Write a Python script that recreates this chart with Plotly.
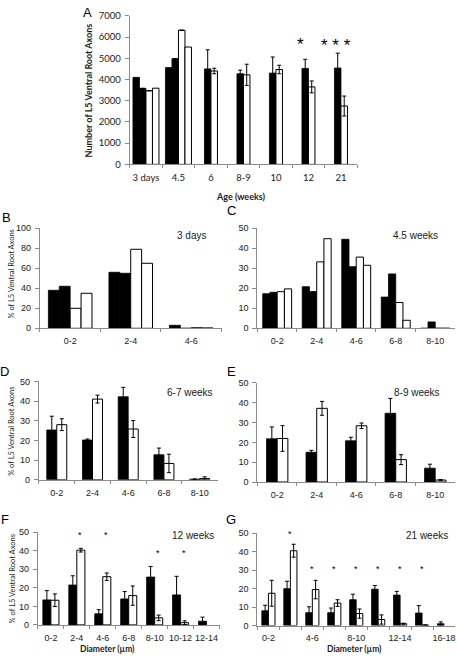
import plotly.graph_objects as go

W, H = 457, 667

# ---------------- data ----------------
A_cats = ["3 days", "4.5", "6", "8-9", "10", "12", "21"]
A_black1 = [4100, 4560, None, None, None, None, None]
A_black2 = [3580, 4980, 4500, 4270, 4300, 4520, 4540]
A_black2_err = [None, None, 900, 170, 760, 430, 700]
A_white1 = [3470, 6320, 4400, 4220, 4470, 3650, 2750]
A_white1_err = [None, None, 130, 500, 200, 280, 470]
A_white2 = [3590, 5530, None, None, None, None, None]
A_yticks = [0, 1000, 2000, 3000, 4000, 5000, 6000, 7000]
A_stars = ["*", "* * *"]
A_star_cat = ["12", "21"]
A_star_y = [5650, 5600]

B_cats = ["0-2", "2-4", "4-6"]
B_black1 = [38, 56, 3]
B_black2 = [42, 55, 0]
B_white1 = [20, 79, 0.5]
B_white2 = [35, 65, 0.3]
B_yticks = [0, 20, 40, 60, 80, 100]

C_cats = ["0-2", "2-4", "4-6", "6-8", "8-10"]
C_black1 = [17.3, 20.8, 44.5, 15.6, 0]
C_black2 = [18.0, 18.4, 30.8, 27.2, 3.2]
C_white1 = [18.3, 33.2, 35.6, 12.9, 0]
C_white2 = [19.7, 44.8, 31.5, 4.0, 0]

pct_yticks = [0, 10, 20, 30, 40, 50]

D_cats = ["0-2", "2-4", "4-6", "6-8", "8-10"]
D_black = [25.3, 20.2, 42.2, 12.7, 0.3]
D_black_err = [7.0, 0.5, 4.8, 3.4, None]
D_white = [28.0, 41.0, 25.8, 8.3, 0.6]
D_white_err = [3.0, 2.0, 4.3, 4.7, 0.9]

E_cats = ["0-2", "2-4", "4-6", "6-8", "8-10"]
E_black = [21.8, 15.0, 20.8, 34.7, 7.0]
E_black_err = [6.0, 1.0, 1.8, 7.5, 2.0]
E_white = [22.0, 37.2, 28.4, 11.3, 1.0]
E_white_err = [6.5, 3.5, 1.4, 2.5, 0.3]

F_cats = ["0-2", "2-4", "4-6", "6-8", "8-10", "10-12", "12-14"]
F_black = [13.5, 21.5, 6.0, 14.0, 25.8, 16.2, 2.0]
F_black_err = [5.0, 5.0, 2.2, 4.0, 5.7, 10.0, 2.2]
F_white = [13.3, 40.3, 26.0, 15.8, 3.8, 1.2, None]
F_white_err = [3.4, 1.0, 2.0, 5.2, 1.5, 1.0, None]
F_stars = ["2-4", "4-6", "8-10", "10-12"]
F_star_y = [48.5, 48.5, 39, 39]

G_cats = ["0-2", "2-4", "4-6", "6-8", "8-10", "10-12", "12-14", "14-16", "16-18"]
G_ticktext = ["0-2", "", "4-6", "", "8-10", "", "12-14", "", "16-18"]
G_black = [8.0, 20.0, 7.0, 7.0, 14.0, 19.7, 16.5, 6.8, 1.0]
G_black_err = [3.0, 4.0, 3.2, 2.5, 3.0, 2.0, 2.0, 4.0, 1.0]
G_white = [17.5, 40.5, 19.5, 12.2, 6.5, 3.3, 1.0, 0.3, None]
G_white_err = [7.0, 3.5, 5.0, 1.8, 2.5, 2.5, 0.3, None, None]
G_stars = ["2-4", "4-6", "6-8", "8-10", "10-12", "12-14", "14-16"]
G_star_y = [49.5, 30.5, 30.5, 30.5, 30.5, 30.5, 30.5]

# ---------------- styling ----------------
CAL = "Lato, Carlito, Calibri, sans-serif"
ARI = "Liberation Sans, Arial, sans-serif"
AXCOL = "#8a8a8a"
TXT = "#1a1a1a"

fig = go.Figure()


def px_x(v):
    return v / W


def px_y(v):
    return 1 - v / H


def bar(idx, cats, vals, errs, black, offset, width):
    err = None
    if errs is not None:
        err = dict(type="data", array=errs, visible=True, color="black",
                   thickness=1, width=2)
    fig.add_trace(go.Bar(
        x=cats, y=vals, error_y=err,
        xaxis="x" + ("" if idx == 1 else str(idx)),
        yaxis="y" + ("" if idx == 1 else str(idx)),
        marker=dict(color="black" if black else "white",
                    line=dict(color="black", width=0.8 if black else 1)),
        offset=offset, width=width, showlegend=False, hoverinfo="skip"))


def axes(idx, cats, xdom, ydom, yrange, yticks, tickfont, ticktext=None):
    sfx = "" if idx == 1 else str(idx)
    xa = dict(domain=[px_x(xdom[0]), px_x(xdom[1])], anchor="y" + sfx,
              type="category", categoryorder="array", categoryarray=cats,
              range=[-0.5, len(cats) - 0.5], showline=True, linecolor=AXCOL,
              linewidth=1, ticks="outside", tickson="boundaries", ticklen=3,
              tickcolor=AXCOL, tickfont=tickfont, showgrid=False, tickangle=0,
              zeroline=False, fixedrange=True, ticklabelstandoff=4)
    if ticktext is not None:
        xa.update(tickmode="array", tickvals=cats, ticktext=ticktext)
    ya = dict(domain=[px_y(ydom[1]), px_y(ydom[0])], anchor="x" + sfx,
              range=yrange, tickmode="array", tickvals=yticks,
              showline=True, linecolor=AXCOL, linewidth=1, ticks="outside",
              ticklen=4, tickcolor=AXCOL, tickfont=tickfont, showgrid=False,
              zeroline=False, fixedrange=True, ticklabelstandoff=2)
    fig.update_layout(**{"xaxis" + sfx: xa, "yaxis" + sfx: ya})


fontA = dict(family=CAL, size=9.5, color=TXT)
fontP = dict(family=ARI, size=9, color=TXT)

# Panel A
bar(1, A_cats, A_black1, None, True, -0.4, 0.2)
bar(1, A_cats, A_black2, A_black2_err, True, -0.2, 0.2)
bar(1, A_cats, A_white1, A_white1_err, False, 0.0, 0.2)
bar(1, A_cats, A_white2, None, False, 0.2, 0.2)
axes(1, A_cats, (130, 358), (10, 161), [0, 7000], A_yticks, fontA)

# Panel B
bw = 0.18
bar(2, B_cats, B_black1, None, True, -2 * bw, bw)
bar(2, B_cats, B_black2, None, True, -bw, bw)
bar(2, B_cats, B_white1, None, False, 0, bw)
bar(2, B_cats, B_white2, None, False, bw, bw)
axes(2, B_cats, (40, 222), (226, 327.7), [0, 100], B_yticks, fontP)

# Panel C
cw = 0.183
bar(3, C_cats, C_black1, None, True, -2 * cw, cw)
bar(3, C_cats, C_black2, None, True, -cw, cw)
bar(3, C_cats, C_white1, None, False, 0, cw)
bar(3, C_cats, C_white2, None, False, cw, cw)
axes(3, C_cats, (258, 456), (226, 327.7), [0, 50], pct_yticks, fontP)

# Panel D
dw = 0.28
bar(4, D_cats, D_black, D_black_err, True, -dw, dw)
bar(4, D_cats, D_white, D_white_err, False, 0, dw)
axes(4, D_cats, (39, 218), (381.7, 481.7), [0, 50], pct_yticks, fontP)

# Panel E
ew = 0.27
bar(5, E_cats, E_black, E_black_err, True, -ew, ew)
bar(5, E_cats, E_white, E_white_err, False, 0, ew)
axes(5, E_cats, (258, 456), (383.3, 484), [0, 50], pct_yticks, fontP)

# Panel F
fw = 0.31
bar(6, F_cats, F_black, F_black_err, True, -fw, fw)
bar(6, F_cats, F_white, F_white_err, False, 0, fw)
axes(6, F_cats, (38, 220), (535, 629.3), [0, 50], pct_yticks, fontP)

# Panel G
gw = 0.3
bar(7, G_cats, G_black, G_black_err, True, -gw, gw)
bar(7, G_cats, G_white, G_white_err, False, 0, gw)
axes(7, G_cats, (258, 456), (536, 630), [0, 50], pct_yticks, fontP, G_ticktext)

ann = []


def paper_text(text, x, y, font, **kw):
    d = dict(text=text, x=px_x(x), y=px_y(y), xref="paper", yref="paper",
             showarrow=False, font=font, xanchor="center", yanchor="middle")
    d.update(kw)
    ann.append(d)


# panel letters
letter_font = dict(family=ARI, size=13, color="black")
for t, x, y in [("A", 88, 7), ("B", 7, 215), ("C", 232, 208), ("D", 5, 372),
                ("E", 232, 372), ("F", 5, 522), ("G", 232, 522)]:
    paper_text(t, x, y, letter_font)

# panel titles
tfont = dict(family=ARI, size=10, color=TXT)
paper_text("3 days", 192, 233, tfont)
paper_text("4.5 weeks", 416, 233, tfont)
paper_text("6-7 weeks", 190, 393, tfont)
paper_text("8-9 weeks", 418, 393, tfont)
paper_text("12 weeks", 193, 538, tfont)
paper_text("21 weeks", 428, 538, tfont)

# axis titles
paper_text("<b>Number of L5 Ventral Root Axons</b>", 89, 86,
           dict(family=CAL, size=9, color=TXT), textangle=-90)
paper_text("<b>Age (weeks)</b>", 242, 194, dict(family=CAL, size=9, color=TXT))
yt_font = dict(family=CAL, size=7.5, color=TXT)
paper_text("% of L5 Ventral Root Axons", 12, 272, yt_font, textangle=-90)
paper_text("% of L5 Ventral Root Axons", 12, 432, yt_font, textangle=-90)
paper_text("% of L5 Ventral Root Axons", 12, 582, yt_font, textangle=-90)
dfont = dict(family=CAL, size=8.5, color=TXT)
paper_text("<b>Diameter (µm)</b>", 108, 654, dfont)
paper_text("<b>Diameter (µm)</b>", 355, 654, dfont)

# significance stars
bigstar = dict(family=ARI, size=17, color="black")
for t, c, yv, sh in zip(A_stars, A_star_cat, A_star_y, [-8, -5]):
    ann.append(dict(text=t, x=A_cats.index(c), y=yv, xref="x", yref="y",
                    showarrow=False, font=bigstar, xshift=sh))
smallstar = dict(family=ARI, size=9, color="black")
for c, yv in zip(F_stars, F_star_y):
    ann.append(dict(text="*", x=F_cats.index(c), y=yv, xref="x6", yref="y6",
                    showarrow=False, font=smallstar, xshift=3))
for c, yv in zip(G_stars, G_star_y):
    ann.append(dict(text="*", x=G_cats.index(c), y=yv, xref="x7", yref="y7",
                    showarrow=False, font=smallstar))

fig.update_layout(
    width=W, height=H, margin=dict(l=0, r=0, t=0, b=0),
    paper_bgcolor="white", plot_bgcolor="white",
    annotations=ann, barmode="overlay",
)

fig.write_html(
    "out.html",
    config={"displayModeBar": False},
    post_script="document.body.style.margin='0';"
                "document.body.style.padding='0';"
                "document.body.style.overflow='hidden';",
)
